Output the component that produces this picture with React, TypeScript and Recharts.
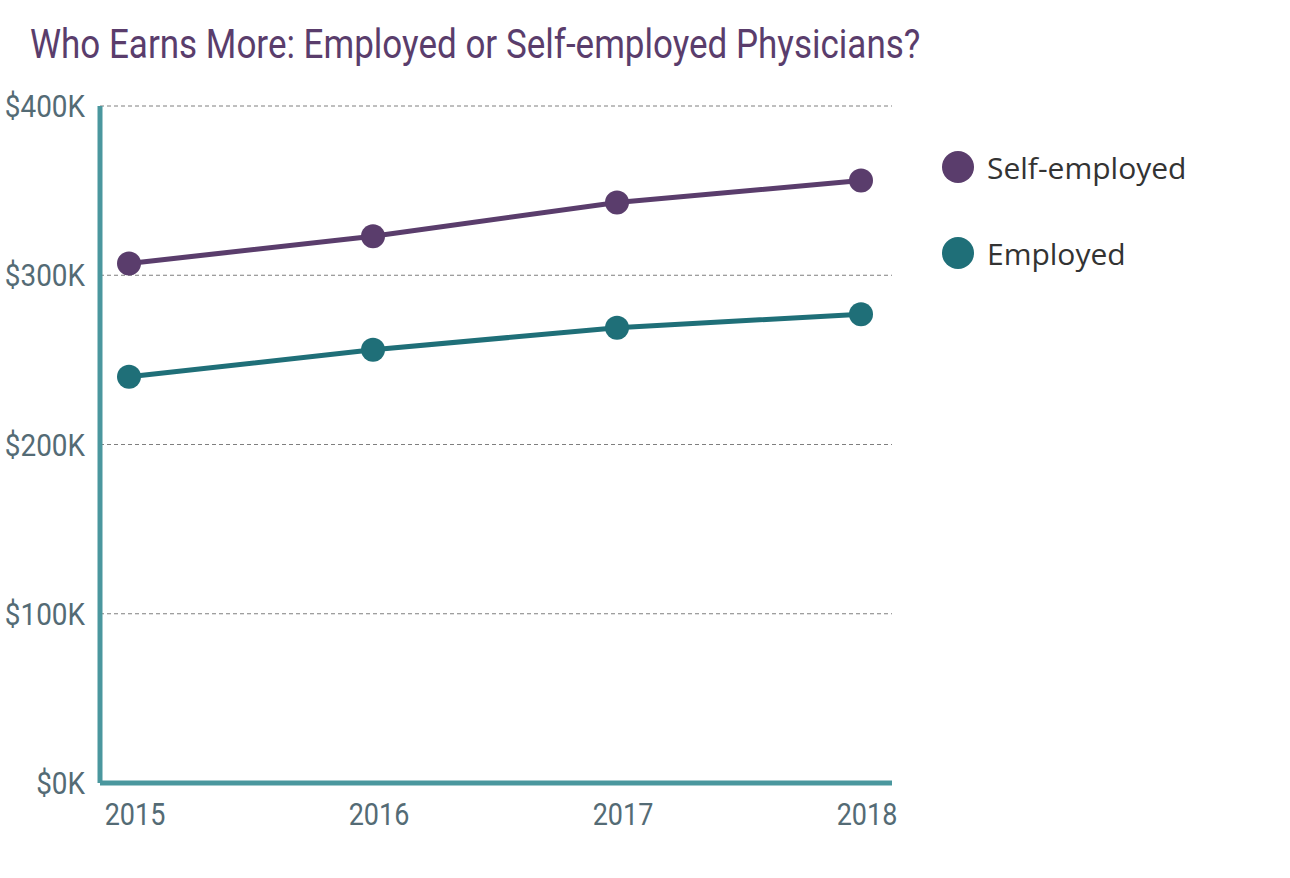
import { LineChart, Line, XAxis, YAxis, CartesianGrid, Legend } from "recharts";

// values in thousands of dollars
const years = ["2015", "2016", "2017", "2018"];
const selfEmployed = [307, 323, 343, 356];
const employed = [240, 256, 269, 277];
const yTicks = [0, 100, 200, 300, 400];

const PURPLE = "#5a3d6c";
const TEAL = "#1f6f78";
const AXIS = "#4a979e";
const LABEL = "#546b75";

const data = years.map((year, i) => ({
  year,
  self: selfEmployed[i],
  emp: employed[i],
}));

const YTick = ({ x, y, payload }: any) => (
  <g transform={`translate(${x - 7},${y})`}>
    <text transform="scale(0.9,1)" textAnchor="end" dy="0.36em" fontFamily="Roboto" fontSize={31} fill={LABEL}>
      {`$${payload.value}K`}
    </text>
  </g>
);

const XTick = ({ x, y, payload }: any) => (
  <g transform={`translate(${x + 6},${y})`}>
    <text transform="scale(0.87,1)" textAnchor="middle" dy="1.1em" fontFamily="Roboto" fontSize={31} fill={LABEL}>
      {payload.value}
    </text>
  </g>
);

const legendItems = [
  { label: "Self-employed", color: PURPLE },
  { label: "Employed", color: TEAL },
];

const LegendBox = () => (
  <div style={{ position: "absolute", left: 942, top: 150 }}>
    {legendItems.map((it) => (
      <div key={it.label} style={{ display: "flex", alignItems: "center", height: 34, marginBottom: 52 }}>
        <span style={{ width: 32, height: 32, borderRadius: 16, background: it.color, display: "inline-block" }} />
        <span style={{ marginLeft: 13, fontFamily: "'Open Sans'", fontSize: 30, color: "#333" }}>{it.label}</span>
      </div>
    ))}
  </div>
);

export default function App() {
  return (
    <div style={{ position: "absolute", left: 0, top: 0, width: 1290, height: 878, background: "#fff" }}>
      <div
        style={{
          position: "absolute",
          left: 30,
          top: 21,
          fontFamily: "Roboto",
          fontSize: 40,
          color: PURPLE,
          whiteSpace: "nowrap",
          transform: "scaleX(0.875)",
          transformOrigin: "left top",
        }}
      >
        Who Earns More: Employed or Self-employed Physicians?
      </div>
      <LineChart width={1290} height={878} data={data} margin={{ top: 106, right: 398, bottom: 35, left: 0 }}>
        <CartesianGrid vertical={false} stroke="#7f7f7f" strokeDasharray="4 3" />
        <XAxis
          dataKey="year"
          padding={{ left: 29, right: 31 }}
          axisLine={{ stroke: AXIS, strokeWidth: 5 }}
          tickLine={false}
          tick={<XTick />}
          height={60}
        />
        <YAxis
          domain={[0, 400]}
          ticks={yTicks}
          width={100}
          axisLine={{ stroke: AXIS, strokeWidth: 5 }}
          tickLine={false}
          tick={<YTick />}
        />
        <Legend content={() => null} />
        <Line
          dataKey="self"
          stroke={PURPLE}
          strokeWidth={5}
          dot={{ r: 12, fill: PURPLE, stroke: PURPLE, strokeWidth: 0 }}
          isAnimationActive={false}
        />
        <Line
          dataKey="emp"
          stroke={TEAL}
          strokeWidth={5}
          dot={{ r: 12, fill: TEAL, stroke: TEAL, strokeWidth: 0 }}
          isAnimationActive={false}
        />
      </LineChart>
      <LegendBox />
    </div>
  );
}
